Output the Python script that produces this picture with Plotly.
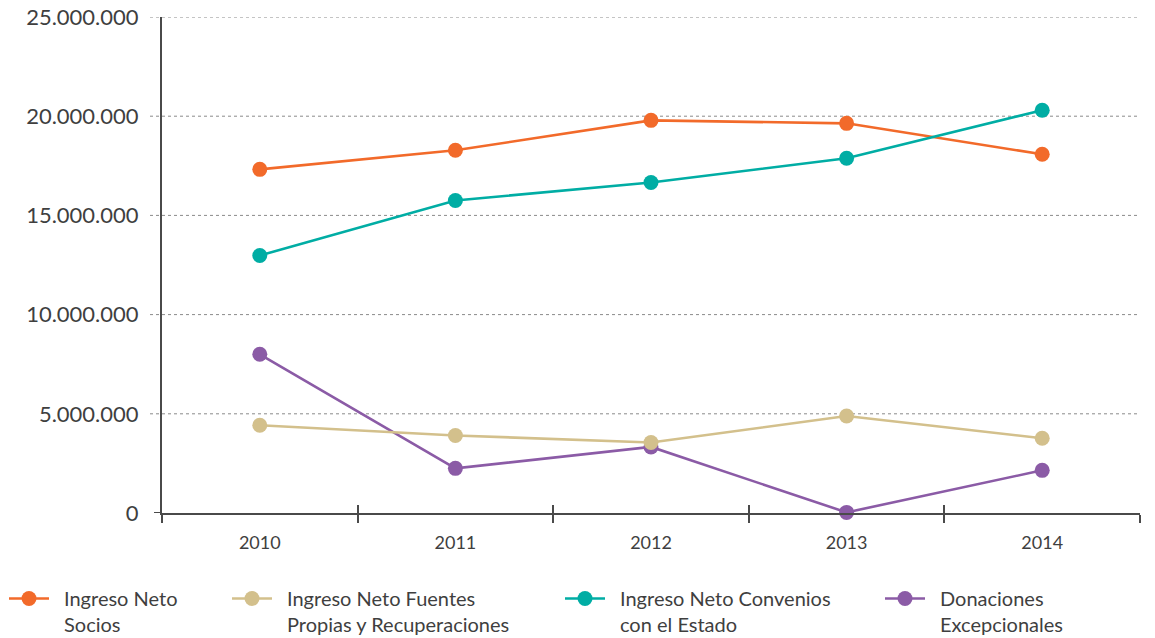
import plotly.graph_objects as go

# Annual income by source (CLP)
years = ["2010", "2011", "2012", "2013", "2014"]
socios = [17320000, 18280000, 19790000, 19640000, 18080000]
fuentes_propias = [4420000, 3910000, 3550000, 4890000, 3770000]
convenios_estado = [12980000, 15750000, 16660000, 17880000, 20300000]
donaciones = [8000000, 2250000, 3330000, 30000, 2150000]

series_names = [
    "Ingreso Neto<br>Socios",
    "Ingreso Neto Fuentes<br>Propias y Recuperaciones",
    "Ingreso Neto Convenios<br>con el Estado",
    "Donaciones<br>Excepcionales",
]
series_values = [socios, fuentes_propias, convenios_estado, donaciones]
series_colors = ["#F26A2A", "#D3C08C", "#00ADA4", "#8B5BA6"]
draw_order = [0, 2, 3, 1]

y_tick_values = [0, 5000000, 10000000, 15000000, 20000000, 25000000]
y_tick_labels = ["0", "5.000.000", "10.000.000", "15.000.000", "20.000.000", "25.000.000"]

# Plot-area geometry in pixels
W, H = 1155, 638
L, R, T, B = 162, 15, 17, 125
pw, ph = W - L - R, H - T - B

def px_x(px):
    return (px - L) / pw

text_color = "#3F3F3F"
axis_color = "#4A4A4A"

def legend_label(name):
    # en space before each line puts a little more air after the symbol
    return "<br>".join("\u2002" + part for part in name.split("<br>"))

fig = go.Figure()
legend_keys = ["legend", "legend2", "legend3", "legend4"]
for i in draw_order:
    fig.add_trace(go.Scatter(
        x=years, y=series_values[i], name=legend_label(series_names[i]),
        mode="lines+markers",
        line=dict(color=series_colors[i], width=2.6),
        marker=dict(color=series_colors[i], size=15),
        cliponaxis=False,
        legend=legend_keys[i],
    ))

# Helper trace so the overlay axis (inner tick marks) is rendered
fig.add_trace(go.Scatter(x=years, y=[None] * len(years), xaxis="x2",
                         showlegend=False, hoverinfo="skip"))

# Dotted horizontal guides, running slightly left of the y axis
shapes = []
for v in y_tick_values[1:]:
    shapes.append(dict(type="line", xref="paper", yref="y",
                       x0=px_x(150), x1=1, y0=v, y1=v,
                       line=dict(color="#8A8A8A", width=1, dash="dot"),
                       layer="below"))
# Solid stubs where the two axes cross
shapes.append(dict(type="line", xref="paper", yref="y",
                   x0=px_x(154), x1=0, y0=0, y1=0,
                   line=dict(color=axis_color, width=2)))
shapes.append(dict(type="line", xref="paper", yref="paper",
                   x0=0, x1=0, y0=0, y1=-8 / ph,
                   line=dict(color=axis_color, width=2)))

legend_x_px = [4, 227, 560, 880]
legend_font = dict(family="Lato", size=20, color=text_color)
legends = {}
for key, xp in zip(legend_keys, legend_x_px):
    legends[key] = dict(
        xref="container", yref="container",
        x=xp / W, y=1 - 579 / H, xanchor="left", yanchor="top",
        orientation="v", font=legend_font, valign="top",
        itemwidth=40, bgcolor="rgba(0,0,0,0)", borderwidth=0,
        tracegroupgap=0,
    )

cat_axis = dict(
    type="category", categoryorder="array", categoryarray=years,
    range=[-0.5, len(years) - 0.5], tickson="boundaries",
    showgrid=False, zeroline=False, ticklen=8, tickwidth=2,
    tickcolor=axis_color, fixedrange=True,
)

fig.update_layout(
    width=W, height=H,
    margin=dict(l=L, r=R, t=T, b=B, autoexpand=False),
    paper_bgcolor="white", plot_bgcolor="white",
    font=dict(family="Lato", color=text_color),
    showlegend=True,
    xaxis=dict(**cat_axis, ticks="outside", showline=True, linecolor=axis_color,
               linewidth=2, ticklabelstandoff=12,
               tickfont=dict(family="Lato", size=18, color=text_color)),
    xaxis2=dict(**cat_axis, ticks="inside", overlaying="x", anchor="y",
                side="bottom", showticklabels=False, showline=False),
    yaxis=dict(range=[0, 25000000], tickvals=y_tick_values, ticktext=y_tick_labels,
               ticks="", showgrid=False, zeroline=False, showline=True,
               linecolor=axis_color, linewidth=2, ticklabelstandoff=17,
               tickfont=dict(family="Lato", size=22, color=text_color),
               fixedrange=True),
    shapes=shapes,
    **legends,
)

fig.write_html("out.html")
